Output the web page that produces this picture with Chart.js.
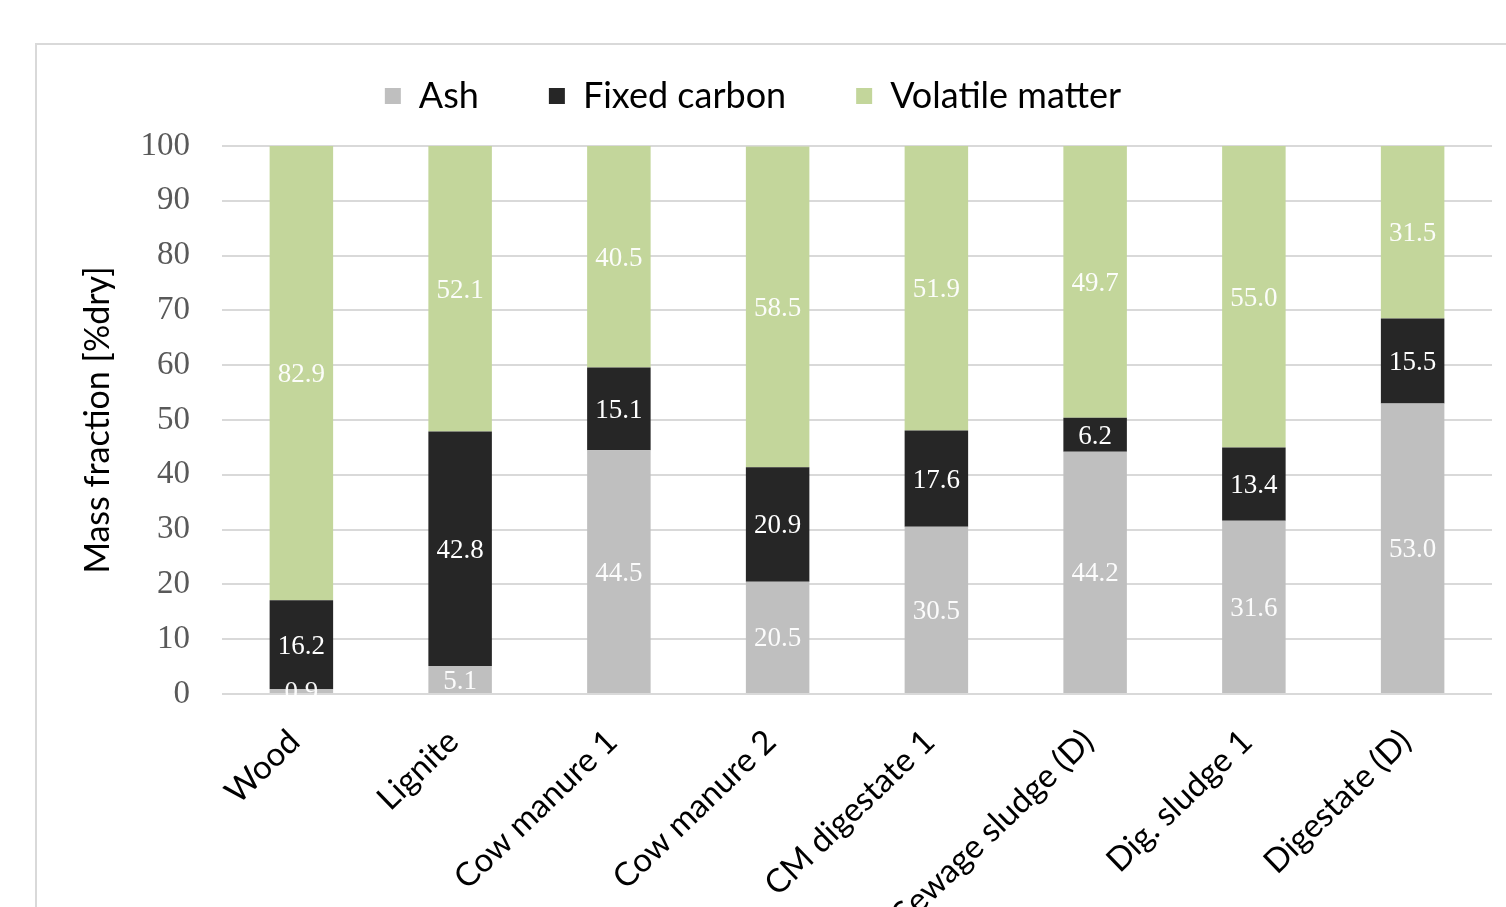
<!DOCTYPE html>
<html>
<head>
<meta charset="utf-8">
<script src="https://cdn.jsdelivr.net/npm/chart.js@4"></script>
<style>
  html, body { margin: 0; padding: 0; background: #fff; overflow: hidden; }
  #frame { position: absolute; left: 35px; top: 43px; width: 1600px; height: 1000px; border: 2px solid #d9d9d9; box-sizing: border-box; }
  #wrap { position: absolute; left: 0; top: 0; width: 1506px; height: 907px; }
</style>
</head>
<body>
<div id="frame"></div>
<div id="wrap"><canvas id="chart-1"></canvas></div>
<script>
var categories = ["Wood", "Lignite", "Cow manure 1", "Cow manure 2", "CM digestate 1", "Sewage sludge (D)", "Dig. sludge 1", "Digestate (D)"];
var ash = [0.9, 5.1, 44.5, 20.5, 30.5, 44.2, 31.6, 53.0];
var fixed_carbon = [16.2, 42.8, 15.1, 20.9, 17.6, 6.2, 13.4, 15.5];
var volatile_matter = [82.9, 52.1, 40.5, 58.5, 51.9, 49.7, 55.0, 31.5];
var y_ticks = [0, 10, 20, 30, 40, 50, 60, 70, 80, 90, 100];

// labels inside the segments
const segmentLabels = {
    id: 'segmentLabels',
    afterDatasetsDraw(chart) {
        const ctx = chart.ctx;
        const area = chart.chartArea;
        ctx.save();
        ctx.beginPath();
        ctx.rect(area.left, area.top - 20, area.right - area.left, area.bottom - area.top + 23);
        ctx.clip();
        ctx.font = '27px "Liberation Serif", "Times New Roman", serif';
        ctx.textAlign = 'center';
        ctx.textBaseline = 'middle';
        chart.data.datasets.forEach((ds, i) => {
            const meta = chart.getDatasetMeta(i);
            meta.data.forEach((bar, j) => {
                ctx.fillStyle = ds.labelColor;
                ctx.fillText(ds.data[j].toFixed(1), bar.x, (bar.y + bar.base) / 2 + 2);
            });
        });
        ctx.restore();
    }
};

const legendHeight = {
    id: 'legendHeight',
    beforeInit(chart) {
        const fit = chart.legend.fit;
        chart.legend.fit = function () {
            fit.call(this);
            this.height = 138;
        };
    }
};

const ctx = document.getElementById("chart-1").getContext("2d");
const myChart = new Chart(ctx, {
    type: "bar",
    data: {
        labels: categories,
        datasets: [{
            label: "Ash",
            data: ash,
            backgroundColor: '#bfbfbf',
            labelColor: 'rgba(255,255,255,0.95)',
        }, {
            label: "Fixed carbon",
            data: fixed_carbon,
            backgroundColor: '#262626',
            labelColor: '#ffffff',
        }, {
            label: "Volatile matter",
            data: volatile_matter,
            backgroundColor: '#c3d69b',
            labelColor: 'rgba(255,255,255,0.95)',
        }],
    },
    options: {
        responsive: true,
        maintainAspectRatio: false,
        animation: false,
        layout: {
            padding: { left: 14, right: 14, top: 8, bottom: 0 }
        },
        datasets: {
            bar: {
                categoryPercentage: 1.0,
                barPercentage: 0.4,
            }
        },
        plugins: {
            legend: {
                display: true,
                position: 'top',
                labels: {
                    boxWidth: 16,
                    boxHeight: 16,
                    padding: 70,
                    color: '#000',
                    font: { family: 'Lato', size: 36 },
                },
            },
            tooltip: { enabled: false },
        },
        scales: {
            x: {
                stacked: true,
                grid: { display: false },
                border: { display: false },
                ticks: {
                    color: '#000',
                    font: { family: 'Lato', size: 33 },
                    minRotation: 44,
                    maxRotation: 44,
                    autoSkip: false,
                    padding: 20,
                    labelOffset: -7,
                },
                afterFit: (scale) => { scale.height = 213; },
            },
            y: {
                stacked: true,
                min: 0,
                max: 100,
                afterBuildTicks: (scale) => { scale.ticks = y_ticks.map(v => ({ value: v })); },
                grid: { color: '#d9d9d9', lineWidth: 2, drawTicks: false },
                border: { display: false },
                ticks: {
                    color: '#595959',
                    font: { family: '"Liberation Serif"', size: 33 },
                    padding: 32,
                },
                title: {
                    display: true,
                    text: 'Mass fraction [%dry]',
                    color: '#000',
                    font: { family: 'Lato', size: 34 },
                    padding: { top: 64, bottom: 0 },
                },
                afterFit: (scale) => { scale.width = 208; },
            },
        },
    },
    plugins: [segmentLabels, legendHeight],
});
</script>
</body>
</html>
